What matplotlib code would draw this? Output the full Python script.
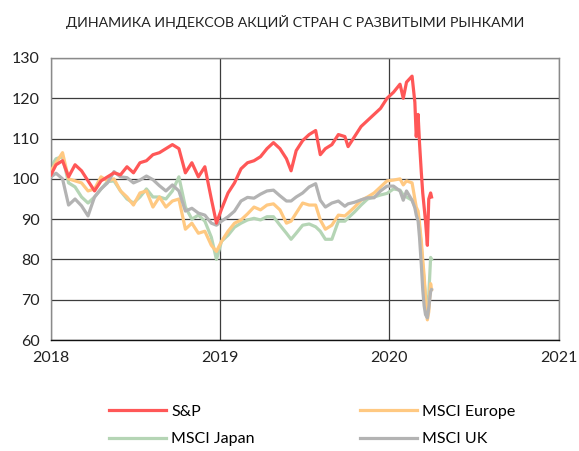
import pandas as pd
import matplotlib
matplotlib.use('Agg')
import matplotlib.pyplot as plt
import matplotlib.dates as mdates

plt.rcParams['font.family'] = ['Lato', 'DejaVu Sans']

# даты (примерно раз в две недели, чаще в марте 2020)
dates = pd.to_datetime([
    '2018-01-01', '2018-01-12', '2018-01-26', '2018-02-08', '2018-02-22', '2018-03-08',
    '2018-03-22', '2018-04-05', '2018-04-19', '2018-05-03', '2018-05-17', '2018-05-31',
    '2018-06-14', '2018-06-28', '2018-07-12', '2018-07-26', '2018-08-09', '2018-08-23',
    '2018-09-06', '2018-09-20', '2018-10-04', '2018-10-18', '2018-11-01', '2018-11-15',
    '2018-11-29', '2018-12-13', '2018-12-24',
    '2019-01-04', '2019-01-18', '2019-02-01', '2019-02-15', '2019-03-01', '2019-03-15',
    '2019-03-29', '2019-04-12', '2019-04-26', '2019-05-10', '2019-05-24', '2019-06-03',
    '2019-06-14', '2019-06-28', '2019-07-12', '2019-07-26', '2019-08-05', '2019-08-16',
    '2019-08-30', '2019-09-13', '2019-09-27', '2019-10-04', '2019-10-18', '2019-11-01',
    '2019-11-15', '2019-11-29', '2019-12-13', '2019-12-27',
    '2020-01-10', '2020-01-24', '2020-01-31', '2020-02-07', '2020-02-19', '2020-02-25',
    '2020-02-28', '2020-03-03', '2020-03-06', '2020-03-10', '2020-03-13', '2020-03-16',
    '2020-03-19', '2020-03-23', '2020-03-26', '2020-03-30', '2020-04-01',
])

sp = [101, 103.5, 104.5, 100.5, 103.5, 102, 99.5, 97, 99.5, 100.5, 101.5, 101,
      103, 101.5, 104, 104.5, 106, 106.5, 107.5, 108.5, 107.5, 101.5, 104, 100.5,
      103, 95, 89,
      92.5, 96.5, 99, 102.5, 104, 104.5, 105.5, 107.5, 109, 107.5, 105, 102,
      107, 109.5, 111, 112, 106, 107.5, 108.5, 111, 110.5, 108, 110.5, 113,
      114.5, 116, 117.5, 120,
      121.5, 123.5, 120, 124, 125.5, 119, 110.5, 116, 109, 101.5, 96.5, 93,
      89.5, 83.5, 95, 96.5, 95.5]

europe = [102, 104, 106.5, 100, 99.5, 99, 97, 97.5, 100.5, 99.5, 100, 97,
          95.5, 93.5, 96.5, 97, 93, 95.5, 93, 94.5, 95, 87.5, 89, 86.5,
          87, 83.5, 82,
          84.5, 87, 89, 89.8, 91.3, 93, 92.3, 93.5, 93.8, 92.3, 89, 89.5,
          91.5, 94, 93.5, 93.5, 89.8, 87.5, 88.5, 91, 90.8, 91.5, 93, 94.7,
          95.5, 96.5, 98, 99.5,
          99.7, 100, 98.5, 99.5, 99, 95, 93, 92, 89, 84.5, 80, 76,
          70.5, 65, 67, 74, 72.5]

japan = [103, 105, 105.5, 99, 98, 95.5, 94, 95.5, 97.5, 99.3, 99.5, 97,
         95, 94, 95.5, 97.5, 95.5, 95.5, 95, 97, 100.5, 93, 90, 91,
         89.5, 85.5, 80,
         84.5, 86, 88, 89, 89.8, 90.2, 89.8, 90.6, 90.6, 88.5, 86.5, 85,
         86.5, 88.5, 88.8, 88.1, 87, 85, 85, 89.5, 89.5, 90.3, 91.8, 93.5,
         95, 95.5, 96, 96.4,
         97.5, 97.2, 96, 95.5, 94.7, 93.2, 92, 90.5, 88, 83, 78.5, 74.5,
         71, 68.5, 71, 80.5, 80]

uk = [100.5, 101.4, 100, 93.5, 95, 93.3, 90.8, 95.5, 97.5, 99, 101.8, 100.5,
      100.3, 99, 99.7, 100.7, 99.8, 98.3, 97, 98.5, 97, 92, 92.7, 91.5,
      91, 89, 88.5,
      89.5, 90.6, 92, 94.5, 95.4, 95.2, 96.2, 97, 97.2, 95.8, 94.5, 94.5,
      95.5, 96.5, 98, 98.8, 94.7, 93, 94, 94.5, 93.2, 93.8, 94.2, 94.8,
      95.3, 95.3, 97, 98.2,
      98.2, 97, 94.7, 97, 94.7, 92.8, 91, 89.5, 85.5, 78.5, 72.5, 68.5,
      66.3, 65.5, 68, 72, 72.5]

fig = plt.figure(figsize=(5.79, 4.51), dpi=100)
ax = fig.add_axes([0.088, 0.2461, 0.8775, 0.6253])

ax.plot(dates, japan, color='#b5d5b5', lw=2.3, label='MSCI Japan', zorder=2)
ax.plot(dates, europe, color='#ffc982', lw=2.3, label='MSCI Europe', zorder=3)
ax.plot(dates, uk, color='#b3b3b3', lw=2.3, label='MSCI UK', zorder=4)
ax.plot(dates, sp, color='#ff5757', lw=2.3, label='S&P', zorder=5)

ax.set_xlim(pd.Timestamp('2018-01-01'), pd.Timestamp('2021-01-01'))
ax.set_ylim(60, 130)
ax.set_yticks(range(60, 131, 10))
ax.xaxis.set_major_locator(mdates.YearLocator())
ax.xaxis.set_major_formatter(mdates.DateFormatter('%Y'))
ax.tick_params(length=0, labelsize=11.5, colors='#222222')
ax.tick_params(axis='x', pad=8)
ax.tick_params(axis='y', pad=8)

ax.grid(True, color='#3c3c3c', lw=0.9, zorder=1)
for s in ['left', 'top', 'right']:
    ax.spines[s].set_color('#8a8a8a')
    ax.spines[s].set_linewidth(1.0)
ax.spines['bottom'].set_color('#111111')
ax.spines['bottom'].set_linewidth(1.0)

fig.text(0.51, 0.952, 'ДИНАМИКА ИНДЕКСОВ АКЦИЙ СТРАН С РАЗВИТЫМИ РЫНКАМИ',
         ha='center', va='center', fontsize=10.2, color='#222222')

h, l = ax.get_legend_handles_labels()
order = [3, 0, 1, 2]
fig.legend([h[i] for i in order], [l[i] for i in order], loc='center',
           bbox_to_anchor=(0.539, 0.057), ncol=2, frameon=False, fontsize=11.5,
           handlelength=3.6, columnspacing=6.6, labelspacing=0.85, handletextpad=0.3)

plt.savefig('out.png', dpi=100)
